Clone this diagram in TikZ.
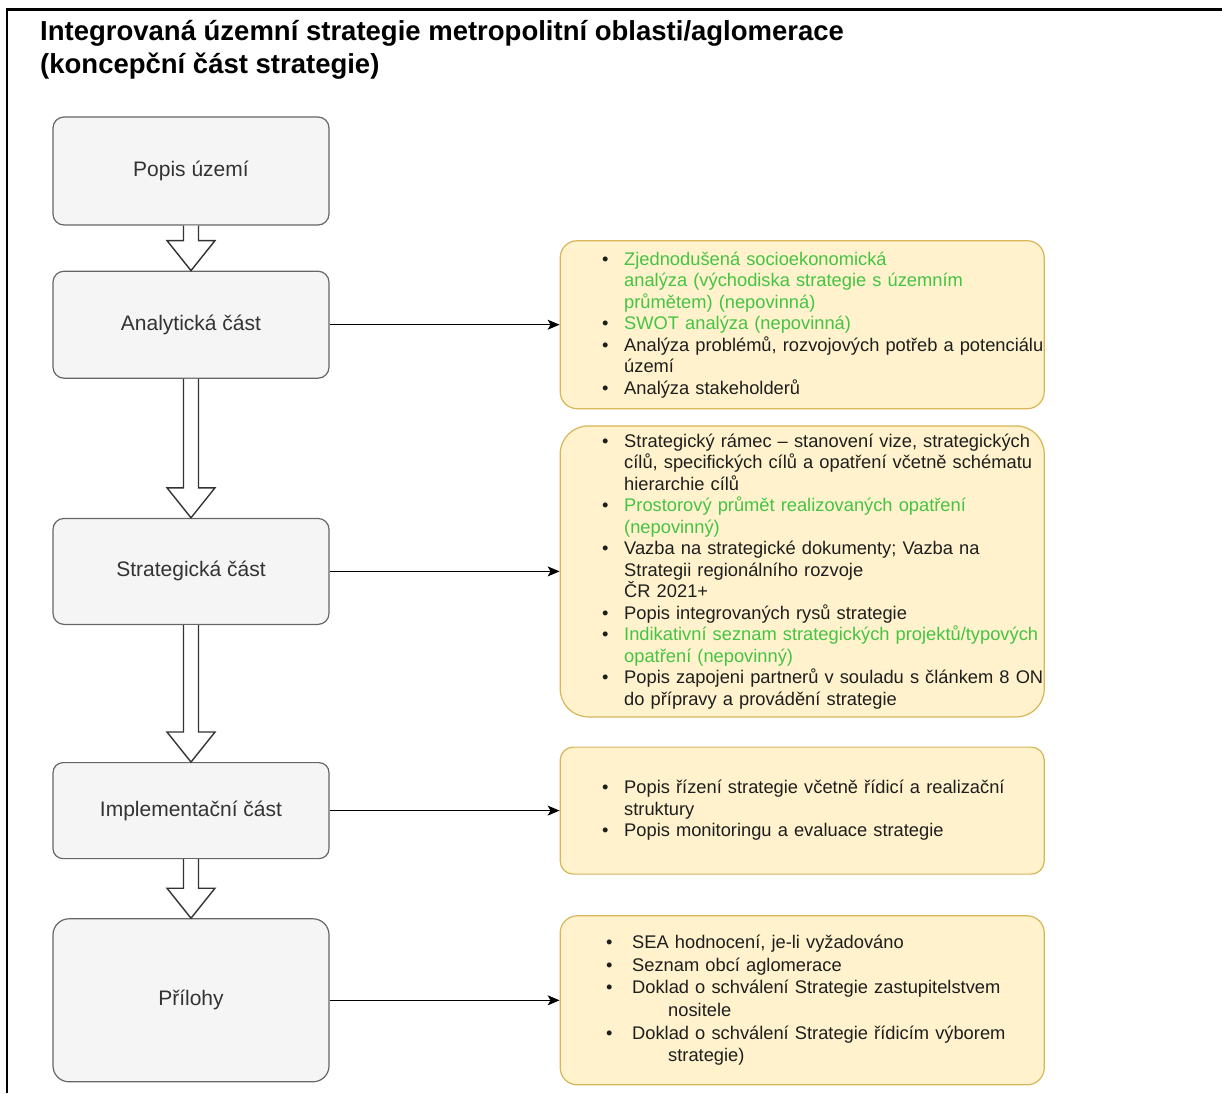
\documentclass[tikz,border=0pt]{standalone}
\usepackage{fontspec}
\setmainfont{Liberation Sans}
\usetikzlibrary{calc,positioning,arrows.meta}

\definecolor{stagefill}{HTML}{F5F5F5}
\definecolor{stageline}{HTML}{666666}
\definecolor{stagetext}{HTML}{333333}
\definecolor{notefill}{HTML}{FFF2CC}
\definecolor{noteline}{HTML}{D6B656}
\definecolor{bodytext}{HTML}{1E1E1E}
\definecolor{optional}{HTML}{44C444}

\newcommand{\bitem}[2][bodytext]{\leftskip=42pt\hangindent=22pt\hangafter=1\noindent\makebox[22pt][l]{\textbullet}{\color{#1}#2}\par}
\newcommand{\bitemwide}[1]{\leftskip=46pt\hangindent=62pt\hangafter=1\noindent\makebox[26pt][l]{\textbullet}#1\par}
\newcommand{\flow}[2]{\draw[flowarrow] ($(#1.south)+(-7.5,0)$) -- ($(#2.north)+(-7.5,-30)$) -- ($(#2.north)+(-24,-30)$) -- (#2.north) -- ($(#2.north)+(24,-30)$) -- ($(#2.north)+(7.5,-30)$) -- ($(#1.south)+(7.5,0)$);}

\begin{document}
\begin{tikzpicture}[
        x=1pt, y=-1pt,
        stage/.style={draw=stageline, fill=stagefill, line width=1.2pt, minimum width=276pt,
            text=stagetext, font=\fontsize{21}{25}\selectfont},
        note/.style={draw=noteline, fill=notefill, line width=1.2pt, text width=484pt,
            inner xsep=0pt, inner ysep=4pt, align=left, text=bodytext,
            font=\fontsize{18.3}{21.5}\selectfont, execute at begin node={\setlength{\parskip}{0pt}}},
        link/.style={-{Stealth[length=12pt,width=10pt,inset=3pt]}, line width=1.2pt},
        flowarrow/.style={draw=black!80, fill=white, line width=1.4pt, line join=miter}
    ]
    \useasboundingbox (0,0) rectangle (1222,1093);
    \draw[line width=2.2pt] (7,1093) -- (7,9.5) -- (1222,9.5);
    \node (title) [anchor=north west, inner sep=0pt, align=left,
        font=\bfseries\fontsize{27.5}{33.5}\selectfont] at (40,20)
        {Integrovaná územní strategie metropolitní oblasti/aglomerace\\(koncepční část strategie)};

    \node (popis) [stage, rounded corners=11pt, minimum height=108pt] at (191,171) {Popis území};
    \node (ana) [stage, rounded corners=11pt, minimum height=107pt, below=45pt of popis] {Analytická část};
    \node (strat) [stage, rounded corners=11pt, minimum height=106pt, below=139pt of ana] {Strategická část};
    \node (impl) [stage, rounded corners=10pt, minimum height=96pt, below=137pt of strat] {Implementační část};
    \node (prilohy) [stage, rounded corners=16pt, minimum height=163pt, below=59pt of impl] {Přílohy};

    \node (anaNote) [note, rounded corners=17pt, minimum height=168pt, right=230pt of ana] {%
        \bitem[optional]{Zjednodušená socioekonomická\newline analýza (východiska strategie s územním\newline průmětem) (nepovinná)}
        \bitem[optional]{SWOT analýza (nepovinná)}
        \bitem{Analýza problémů, rozvojových potřeb a potenciálu\newline území}
        \bitem{Analýza stakeholderů}};
    \node (stratNote) [note, rounded corners=28pt, minimum height=291pt, right=230pt of strat] {%
        \bitem{Strategický rámec – stanovení vize, strategických\newline cílů, specifických cílů a opatření včetně schématu\newline hierarchie cílů}
        \bitem[optional]{Prostorový průmět realizovaných opatření\newline (nepovinný)}
        \bitem{Vazba na strategické dokumenty; Vazba na\newline Strategii regionálního rozvoje\newline ČR 2021+}
        \bitem{Popis integrovaných rysů strategie}
        \bitem[optional]{Indikativní seznam strategických projektů/typových\newline opatření (nepovinný)}
        \bitem{Popis zapojeni partnerů v souladu s článkem 8 ON\newline do přípravy a provádění strategie}};
    \node (implNote) [note, rounded corners=13pt, minimum height=127pt, right=230pt of impl] {%
        \bitem{Popis řízení strategie včetně řídicí a realizační\newline struktury}
        \bitem{Popis monitoringu a evaluace strategie}};
    \node (prilohyNote) [note, rounded corners=17pt, minimum height=169pt, right=230pt of prilohy,
        font=\fontsize{18.3}{22.6}\selectfont] {%
        \bitemwide{SEA hodnocení, je-li vyžadováno}
        \bitemwide{Seznam obcí aglomerace}
        \bitemwide{Doklad o schválení Strategie zastupitelstvem\newline nositele}
        \bitemwide{Doklad o schválení Strategie řídicím výborem\newline strategie)}};

    \flow{popis}{ana}
    \flow{ana}{strat}
    \flow{strat}{impl}
    \flow{impl}{prilohy}

    \draw[link] (ana) -- (anaNote);
    \draw[link] (strat) -- (stratNote);
    \draw[link] (impl) -- (implNote);
    \draw[link] (prilohy) -- (prilohyNote);
\end{tikzpicture}
\end{document}
